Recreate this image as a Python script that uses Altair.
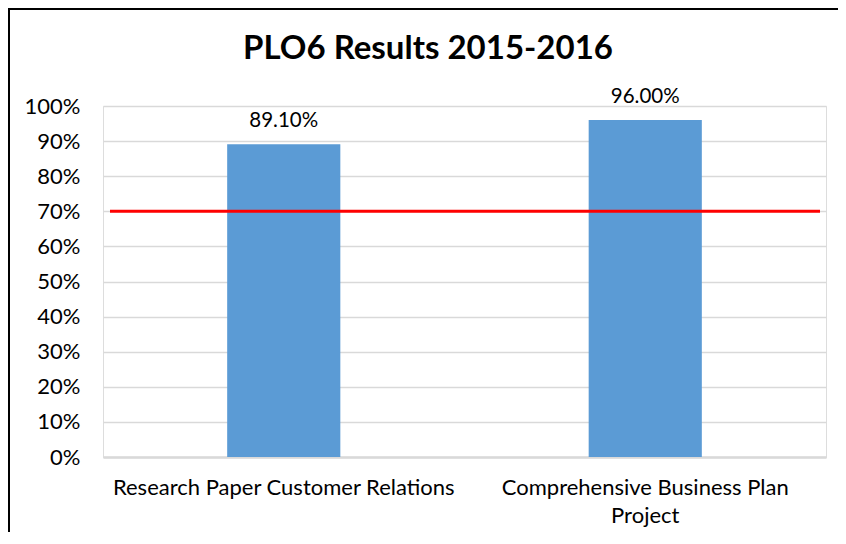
import altair as alt
import pandas as pd

categories = ["Research Paper Customer Relations", "Comprehensive Business Plan Project"]
values = [0.891, 0.96]
value_labels = ["89.10%", "96.00%"]
target = [0.70]
y_ticks = [0, 0.1, 0.2, 0.3, 0.4, 0.5, 0.6, 0.7, 0.8, 0.9, 1.0]
title_text = ["PLO6 Results 2015-2016"]

FONT = "Lato"

df = pd.DataFrame({"cat": categories, "val": values, "lab": value_labels})
tdf = pd.DataFrame({"val": target})
ttl = pd.DataFrame({"title": title_text})

W, H = 723, 351

x_axis = alt.Axis(
    labelAngle=0,
    labelFont=FONT,
    labelFontSize=22,
    labelColor="#000000",
    labelPadding=20,
    labelLineHeight=28,
    labelBaseline="top",
    ticks=False,
    tickSize=0,
    domain=True,
    domainColor="#d9d9d9",
    domainWidth=2.5,
    grid=False,
    labelLimit=0,
    labelOverlap=False,
    labelExpr="datum.label == 'Comprehensive Business Plan Project' ? ['Comprehensive Business Plan', 'Project'] : datum.label",
)

y_axis = alt.Axis(
    format=".0%",
    values=y_ticks,
    labelOverlap=False,
    labelFont=FONT,
    labelFontSize=22,
    labelColor="#000000",
    labelPadding=23,
    ticks=False,
    tickSize=0,
    domain=False,
    grid=True,
    gridColor="#d9d9d9",
    gridWidth=1.5,
)

x_scale = alt.Scale(paddingInner=0.687, paddingOuter=0.3435)
y_scale = alt.Scale(domain=[0, 1], nice=False)

x_enc = alt.X("cat:N", sort=categories, title=None, scale=x_scale, axis=x_axis)
y_enc = alt.Y("val:Q", title=None, scale=y_scale, axis=y_axis)

bars = alt.Chart(df).mark_bar(color="#5b9bd5").encode(x=x_enc, y=y_enc)

texts = alt.Chart(df).mark_text(
    font=FONT, fontSize=20.5, color="#000000", baseline="alphabetic", dy=-17.5
).encode(x=x_enc, y=y_enc, text="lab:N")

rule = alt.Chart(tdf).mark_rule(color="#ff0000", strokeWidth=3).encode(
    y=y_enc, x=alt.value(7), x2=alt.value(717)
)

title = alt.Chart(ttl).mark_text(
    font=FONT, fontSize=33, fontWeight="bold", color="#000000",
    baseline="alphabetic", align="center"
).encode(x=alt.value(325), y=alt.value(-47), text="title:N")

border = alt.Chart(ttl).mark_rect(
    fill="transparent", stroke="#000000", strokeWidth=2
).encode(x=alt.value(-94), y=alt.value(-97), x2=alt.value(780), y2=alt.value(520))

chart = alt.layer(bars, rule, texts, title, border).properties(
    width=W,
    height=H,
    padding={"left": 95, "top": 98, "right": 12, "bottom": 75},
    autosize=alt.AutoSizeParams(type="none"),
).configure_view(stroke=None).configure(background="#ffffff")

chart.save("out.html", embed_options={"renderer": "svg", "actions": False})
